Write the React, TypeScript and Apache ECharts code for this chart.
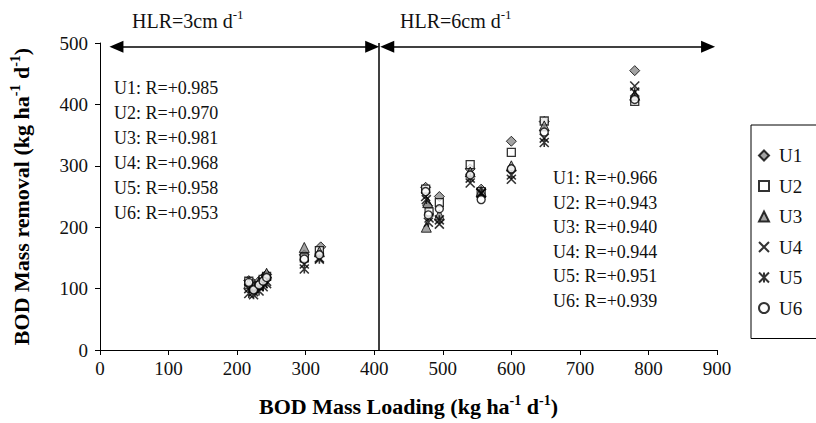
import React, { useEffect, useRef } from "react";
import * as echarts from "echarts";

const FONT = "Liberation Serif";

const seriesNames = ["U1", "U2", "U3", "U4", "U5", "U6"];

// [BOD mass loading, BOD mass removal]
const u1Data = [
  [217, 113], [224, 108], [232, 112], [238, 118], [243, 123], [298, 155], [322, 168],
  [475, 265], [478, 235], [495, 250], [540, 295], [556, 262], [600, 340], [648, 372], [780, 455],
];
const u2Data = [
  [217, 112], [224, 100], [232, 105], [238, 115], [243, 120], [298, 150], [320, 162],
  [475, 262], [480, 225], [495, 240], [540, 302], [556, 258], [600, 322], [648, 373], [780, 405],
];
const u3Data = [
  [217, 108], [224, 102], [232, 110], [238, 117], [243, 125], [298, 167], [320, 160],
  [476, 200], [478, 240], [495, 220], [540, 290], [556, 258], [600, 300], [648, 365], [780, 415],
];
const u4Data = [
  [217, 100], [224, 95], [232, 103], [238, 108], [243, 112], [298, 140], [320, 150],
  [475, 250], [480, 215], [495, 205], [540, 272], [556, 255], [600, 278], [648, 345], [780, 430],
];
const u5Data = [
  [217, 92], [224, 90], [232, 96], [238, 103], [243, 108], [298, 132], [320, 148],
  [476, 245], [479, 208], [495, 212], [540, 280], [556, 256], [600, 285], [648, 338], [780, 420],
];
const u6Data = [
  [217, 110], [224, 98], [232, 106], [238, 112], [243, 118], [298, 148], [320, 155],
  [475, 258], [479, 220], [495, 230], [540, 285], [556, 245], [600, 295], [648, 355], [780, 408],
];

const leftR = [
  "U1: R=+0.985", "U2: R=+0.970", "U3: R=+0.981",
  "U4: R=+0.968", "U5: R=+0.958", "U6: R=+0.953",
];
const rightR = [
  "U1: R=+0.966", "U2: R=+0.943", "U3: R=+0.940",
  "U4: R=+0.944", "U5: R=+0.951", "U6: R=+0.939",
];
const hlrLabels = ["HLR=3cm d", "HLR=6cm d"];

const xMin = 0, xMax = 900, xStep = 100;
const yMin = 0, yMax = 500, yStep = 100;
const hlrBoundary = 407;
const arrowLevel = 494;
const leftArrowEnds = [24, 397];
const rightArrowEnds = [419, 887];

const GRAY = "#8c8c8c";
const X_PATH = "path://M0,0 L10,10 M10,0 L0,10";
const STAR_PATH = "path://M0,0 L10,10 M10,0 L0,10 M5,0 L5,10";

const symbolDefs = [
  { symbol: "diamond", size: 10, itemStyle: { color: GRAY, borderColor: "#000", borderWidth: 1 } },
  { symbol: "rect", size: 8, itemStyle: { color: "#fff", borderColor: "#000", borderWidth: 1.3 } },
  { symbol: "triangle", size: 10, itemStyle: { color: GRAY, borderColor: "#000", borderWidth: 1 } },
  { symbol: X_PATH, size: 9, itemStyle: { color: "rgba(0,0,0,0)", borderColor: "#000", borderWidth: 1.6 } },
  { symbol: STAR_PATH, size: 9, itemStyle: { color: "rgba(0,0,0,0)", borderColor: "#000", borderWidth: 1.6 } },
  { symbol: "circle", size: 8, itemStyle: { color: "#fff", borderColor: "#000", borderWidth: 1.4 } },
];

const allData = [u1Data, u2Data, u3Data, u4Data, u5Data, u6Data];

export default function App() {
  const ref = useRef<HTMLDivElement>(null);

  useEffect(() => {
    if (!ref.current) return;
    const chart = echarts.init(ref.current, undefined, { renderer: "svg" });

    const titleRich = {
      b: { fontFamily: FONT, fontWeight: "bold", fontSize: 22, color: "#000", lineHeight: 26 },
      s: { fontFamily: FONT, fontWeight: "bold", fontSize: 14, color: "#000", lineHeight: 14, verticalAlign: "top" },
    };

    const scatterSeries = seriesNames.map((name, i) => ({
      name,
      type: "scatter",
      data: allData[i],
      symbol: symbolDefs[i].symbol,
      symbolSize: symbolDefs[i].size,
      itemStyle: symbolDefs[i].itemStyle,
      z: 3,
    }));

    const lineStyle = { color: "#000", width: 1.5, type: "solid" };

    const annotationSeries = {
      name: "annotations",
      type: "scatter",
      data: [],
      silent: true,
      markLine: {
        silent: true,
        animation: false,
        label: { show: false },
        lineStyle,
        data: [
          [
            { coord: [hlrBoundary, yMin], symbol: "none" },
            { coord: [hlrBoundary, yMax], symbol: "none" },
          ],
          [
            { coord: [leftArrowEnds[0], arrowLevel], symbol: "triangle", symbolSize: [12, 14] },
            { coord: [leftArrowEnds[1], arrowLevel], symbol: "triangle", symbolSize: [12, 14] },
          ],
          [
            { coord: [rightArrowEnds[0], arrowLevel], symbol: "triangle", symbolSize: [12, 14] },
            { coord: [rightArrowEnds[1], arrowLevel], symbol: "triangle", symbolSize: [12, 14] },
          ],
        ],
      },
    };

    const textBlock = (lines: string[], left: number, top: number, lh: number) => ({
      type: "text",
      left,
      top,
      style: {
        text: lines.join("\n"),
        fontFamily: FONT,
        fontSize: 18,
        lineHeight: lh,
        fill: "#111",
      },
    });

    const hlrText = (label: string, left: number) => ({
      type: "text",
      left,
      top: 8,
      style: {
        text: `{m|${label}}{s|-1}`,
        rich: {
          m: { fontFamily: FONT, fontSize: 20, lineHeight: 26, fill: "#111" },
          s: { fontFamily: FONT, fontSize: 13, lineHeight: 14, verticalAlign: "top", fill: "#111" },
        },
      },
    });

    chart.setOption({
      animation: false,
      backgroundColor: "#fff",
      grid: { left: 97, right: 99, top: 43, bottom: 73, containLabel: false },
      xAxis: {
        type: "value",
        min: xMin,
        max: xMax,
        interval: xStep,
        splitLine: { show: false },
        axisLine: { show: true, onZero: false, lineStyle: { color: "#000", width: 1 } },
        axisTick: { show: true, inside: false, length: 5, lineStyle: { color: "#000" } },
        axisLabel: { fontFamily: FONT, fontSize: 19, color: "#111", margin: 9 },
        name: "{b|BOD Mass Loading (kg ha}{s|-1}{b| d}{s|-1}{b|)}",
        nameLocation: "middle",
        nameGap: 43,
        nameTextStyle: { rich: titleRich },
      },
      yAxis: {
        type: "value",
        min: yMin,
        max: yMax,
        interval: yStep,
        splitLine: { show: false },
        axisLine: { show: true, onZero: false, lineStyle: { color: "#000", width: 1 } },
        axisTick: { show: true, inside: false, length: 5, lineStyle: { color: "#000" } },
        axisLabel: { fontFamily: FONT, fontSize: 19, color: "#111", margin: 12 },
        name: "{b|BOD Mass removal (kg ha}{s|-1}{b| d}{s|-1}{b|)}",
        nameLocation: "middle",
        nameRotate: 90,
        nameGap: 66,
        nameTextStyle: { rich: titleRich },
      },
      legend: {
        data: seriesNames,
        orient: "vertical",
        left: 751,
        top: 125,
        padding: [21, 20, 21, 7],
        itemWidth: 10,
        itemHeight: 10,
        itemGap: 11.5,
        borderColor: "#000",
        borderWidth: 1,
        borderRadius: 0,
        textStyle: { fontFamily: FONT, fontSize: 19, color: "#111", lineHeight: 19, padding: [0, 0, 0, 5] },
      },
      graphic: [
        hlrText(hlrLabels[0], 132),
        hlrText(hlrLabels[1], 400),
        textBlock(leftR, 114, 75, 25),
        textBlock(rightR, 553, 166, 24.5),
      ],
      series: [...scatterSeries, annotationSeries],
    });

    return () => chart.dispose();
  }, []);

  return (
    <div
      ref={ref}
      style={{ position: "fixed", left: 0, top: 0, width: 816, height: 423, background: "#fff" }}
    />
  );
}
